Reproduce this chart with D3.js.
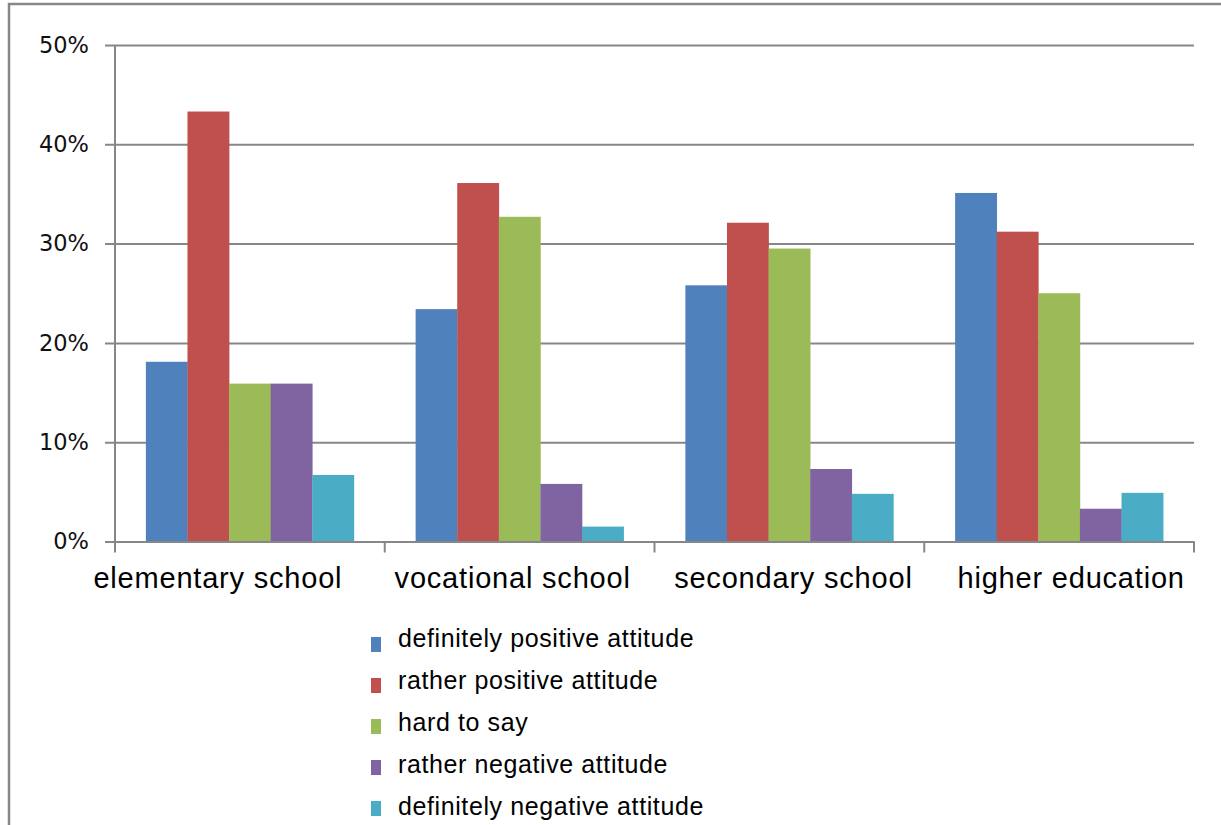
<!DOCTYPE html>
<html>
<head>
<meta charset="utf-8">
<script src="https://cdn.jsdelivr.net/npm/d3@7/dist/d3.min.js"></script>
<style>
  html, body { margin: 0; padding: 0; background: #fff; }
  svg { display: block; }
</style>
</head>
<body>
<svg id="chart" width="1221" height="825"></svg>
<script>
// Attitude by education level (share of respondents)
const categories = ["elementary school", "vocational school", "secondary school", "higher education"];
const seriesNames = [
  "definitely positive attitude",
  "rather positive attitude",
  "hard to say",
  "rather negative attitude",
  "definitely negative attitude"
];
const definitelyPositive = [18.1, 23.4, 25.8, 35.1];
const ratherPositive     = [43.3, 36.1, 32.1, 31.2];
const hardToSay          = [15.9, 32.7, 29.5, 25.0];
const ratherNegative     = [15.9, 5.8, 7.3, 3.3];
const definitelyNegative = [6.7, 1.5, 4.8, 4.9];
const yTicks = [0, 10, 20, 30, 40, 50];
const colors = ["#4F81BD", "#C0504D", "#9BBB59", "#8064A2", "#4BACC6"];

const seriesValues = [definitelyPositive, ratherPositive, hardToSay, ratherNegative, definitelyNegative];

// horizontal nudges of the category labels (long labels overflow their bands)
const labelShift = [-32, -7, 4, 12];

const svg = d3.select("#chart");

// outer chart frame
svg.append("rect")
  .attr("x", 9).attr("y", 4)
  .attr("width", 1230).attr("height", 840)
  .attr("fill", "none").attr("stroke", "#878787").attr("stroke-width", 2.5);

const plot = { left: 115, right: 1194, top: 45, bottom: 541.5 };

const x = d3.scaleBand().domain(categories).range([plot.left, plot.right]).padding(0);
const xs = d3.scaleBand().domain(seriesNames).range([0, x.bandwidth()]).paddingInner(0).paddingOuter(0.742);
const y = d3.scaleLinear().domain([0, 50]).range([plot.bottom, plot.top]);

// gridlines with outside tick marks
const yAxis = d3.axisLeft(y)
  .tickValues(yTicks)
  .tickSize(-(plot.right - plot.left) - 10)
  .tickFormat(d => d + "%");

const gy = svg.append("g")
  .attr("transform", `translate(${plot.right},0)`)
  .call(yAxis);
gy.select(".domain").remove();
gy.selectAll(".tick line")
  .attr("x1", 0).attr("x2", -(plot.right - plot.left) - 10)
  .attr("stroke", "#878787").attr("stroke-width", 2);
gy.selectAll(".tick text")
  .attr("x", -(plot.right - plot.left) - 26)
  .attr("font-family", "DejaVu Sans, sans-serif")
  .attr("font-size", 22.5)
  .attr("fill", "#111");

// vertical axis line
svg.append("line")
  .attr("x1", plot.left).attr("x2", plot.left)
  .attr("y1", plot.top).attr("y2", plot.bottom + 10)
  .attr("stroke", "#878787").attr("stroke-width", 2);

// bars
const groups = svg.append("g").selectAll("g")
  .data(categories)
  .join("g")
  .attr("transform", d => `translate(${x(d)},0)`);

groups.selectAll("rect")
  .data((c, ci) => seriesNames.map((s, si) => ({ s, si, v: seriesValues[si][ci] })))
  .join("rect")
  .attr("x", d => xs(d.s))
  .attr("width", xs.bandwidth() + 0.3)
  .attr("y", d => y(d.v))
  .attr("height", d => y(0) - y(d.v))
  .attr("fill", d => colors[d.si]);

// category axis
const xAxis = d3.axisBottom(x).tickSize(0).tickPadding(26);
const gx = svg.append("g")
  .attr("transform", `translate(0,${plot.bottom})`)
  .call(xAxis);
gx.select(".domain").attr("stroke", "#878787").attr("stroke-width", 2);
gx.selectAll(".tick text")
  .attr("dx", (d, i) => labelShift[i])
  .attr("font-family", "Liberation Sans, Arial, sans-serif")
  .attr("font-size", 29)
  .attr("letter-spacing", 0.8)
  .attr("fill", "#000");

// category boundary ticks
const bounds = categories.map(c => x(c)).concat([plot.right]);
svg.append("g").selectAll("line")
  .data(bounds)
  .join("line")
  .attr("x1", d => d).attr("x2", d => d)
  .attr("y1", plot.bottom).attr("y2", plot.bottom + 11)
  .attr("stroke", "#878787").attr("stroke-width", 2);

// legend
const legend = svg.append("g").attr("transform", "translate(371,637)");
const items = legend.selectAll("g")
  .data(seriesNames)
  .join("g");
items.append("rect")
  .attr("x", 0).attr("y", (d, i) => i * 41)
  .attr("width", 10).attr("height", 15)
  .attr("fill", (d, i) => colors[i]);
items.append("text")
  .attr("x", 27).attr("y", (d, i) => 10 + i * 42)
  .attr("font-family", "Liberation Sans, Arial, sans-serif")
  .attr("font-size", 25)
  .attr("letter-spacing", 0.6)
  .attr("fill", "#000")
  .text(d => d);
</script>
</body>
</html>
